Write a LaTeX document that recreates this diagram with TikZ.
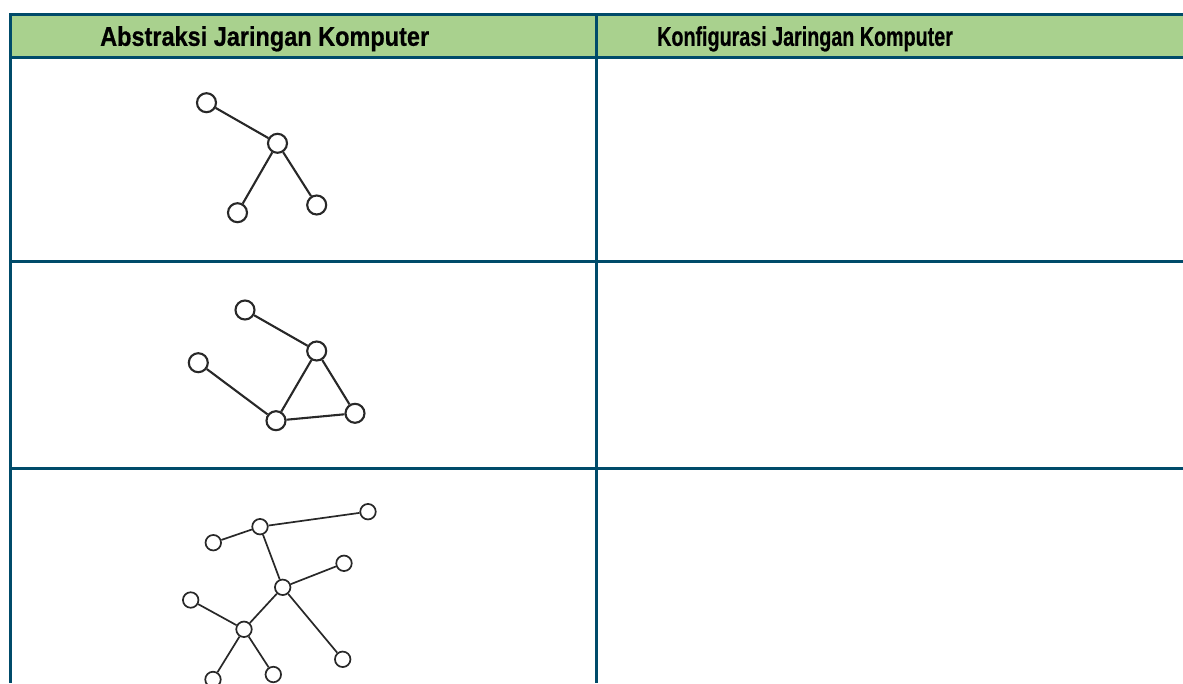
\documentclass[tikz,border=0pt]{standalone}
\usepackage{fontspec}
\setmainfont{Liberation Sans}[BoldFeatures={FakeBold=0.6}]
\usepackage{graphicx}
\definecolor{rule}{RGB}{0,75,106}
\definecolor{headfill}{RGB}{169,209,142}
\definecolor{edgegray}{RGB}{40,40,40}
\tikzset{
  grid/.style={draw=rule, line width=2.8pt},
  headtext/.style={inner sep=0pt, anchor=base west, font=\fontsize{27}{30}\selectfont\bfseries},
  bignode/.style={circle, draw=edgegray, fill=white, line width=2.1pt, minimum size=19pt, inner sep=0pt},
  smallnode/.style={circle, draw=edgegray, fill=white, line width=1.7pt, minimum size=15.5pt, inner sep=0pt},
  bigedge/.style={draw=edgegray, line width=2.1pt},
  smalledge/.style={draw=edgegray, line width=1.7pt},
}
\begin{document}
\begin{tikzpicture}[x=1pt, y=-1pt]
\useasboundingbox (0,0) rectangle (1183,683);
% header band
\fill[headfill] (10.8,14.8) rectangle (1183,57.5);
% table rules
\draw[grid] (10.8,14.8) -- (1183,14.8);
\draw[grid] (10.8,57.5) -- (1183,57.5);
\draw[grid] (10.8,261.3) -- (1183,261.3);
\draw[grid] (10.8,468.3) -- (1183,468.3);
\draw[grid] (10.8,13.4) -- (10.8,683);
\draw[grid] (596.3,13.4) -- (596.3,683);
% column headings
\node[headtext] (h1) at (100,45.8) {\scalebox{0.87}[1]{Abstraksi Jaringan Komputer}};
\node[headtext] (h2) at (657,45.8) {\scalebox{0.73}[1]{Konfigurasi Jaringan Komputer}};

% network 1: a small tree
\node[bignode] (t1) at (206.5,102.7) {};
\node[bignode] (t2) at (277.5,143.3) {};
\node[bignode] (t3) at (237.5,212.7) {};
\node[bignode] (t4) at (316.7,205) {};
\draw[bigedge] (t1) -- (t2);
\draw[bigedge] (t2) -- (t3);
\draw[bigedge] (t2) -- (t4);

% network 2: a tree with a loop
\node[bignode] (m1) at (245,310) {};
\node[bignode] (m2) at (316.7,351) {};
\node[bignode] (m3) at (198.3,362.7) {};
\node[bignode] (m4) at (276,420.7) {};
\node[bignode] (m5) at (355,413.3) {};
\draw[bigedge] (m1) -- (m2);
\draw[bigedge] (m3) -- (m4);
\draw[bigedge] (m2) -- (m4);
\draw[bigedge] (m2) -- (m5);
\draw[bigedge] (m4) -- (m5);

% network 3: a larger tree
\node[smallnode] (s1) at (368,511.7) {};
\node[smallnode] (s2) at (260,526.7) {};
\node[smallnode] (s3) at (213.3,542.7) {};
\node[smallnode] (s4) at (344,563.3) {};
\node[smallnode] (s5) at (282.7,587.3) {};
\node[smallnode] (s6) at (190.7,600) {};
\node[smallnode] (s7) at (244,629.3) {};
\node[smallnode] (s8) at (342.7,659.3) {};
\node[smallnode] (s9) at (213,679.5) {};
\node[smallnode] (s10) at (273.3,674.5) {};
\draw[smalledge] (s2) -- (s1);
\draw[smalledge] (s3) -- (s2);
\draw[smalledge] (s2) -- (s5);
\draw[smalledge] (s5) -- (s4);
\draw[smalledge] (s5) -- (s7);
\draw[smalledge] (s5) -- (s8);
\draw[smalledge] (s6) -- (s7);
\draw[smalledge] (s7) -- (s9);
\draw[smalledge] (s7) -- (s10);
\end{tikzpicture}
\end{document}
